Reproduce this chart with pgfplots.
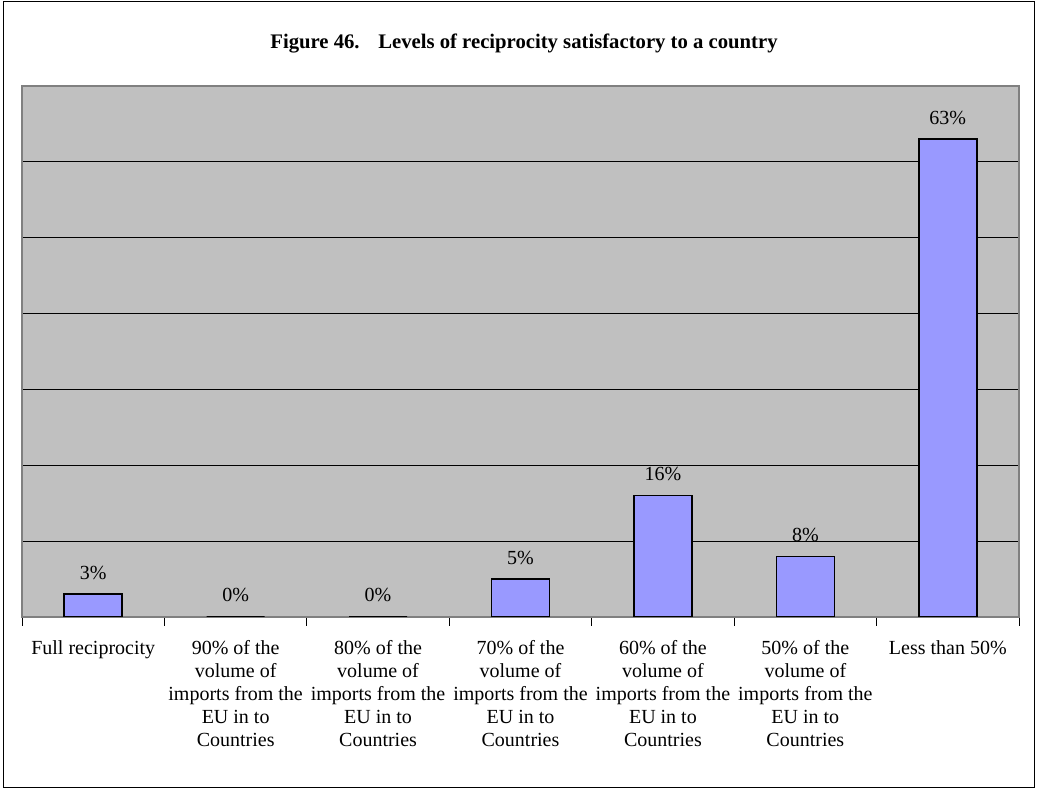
\documentclass[border=0pt]{standalone}
\usepackage{pgfplots}
\pgfplotsset{compat=1.18}
\usepackage{fontspec}
\setmainfont{Liberation Serif}
\definecolor{plotbg}{HTML}{C0C0C0}
\definecolor{barfill}{HTML}{9999FF}
\definecolor{bordergray}{HTML}{808080}
\begin{document}
\begin{tikzpicture}
\useasboundingbox (0,0) rectangle (1037pt,790pt);
\draw[black, line width=1pt] (3pt,2pt) rectangle (1034pt,788pt);
\node[anchor=base, font=\fontsize{20.7}{24}\selectfont\bfseries] at (524pt,741pt) {Figure 46.\hspace{0.9em}Levels of reciprocity satisfactory to a country};
\begin{axis}[
  at={(22pt,173pt)}, anchor=south west,
  scale only axis, width=997pt, height=531pt,
  xmin=-0.5, xmax=6.5, ymin=0, ymax=70,
  /pgf/number format/assume math mode=true,
  axis background/.style={fill=plotbg},
  axis line style={bordergray, line width=1.5pt},
  ytick={0,10,...,60}, yticklabels={}, ymajorgrids,
  major grid style={black, line width=0.8pt},
  xtick={0,...,6},
  minor xtick={-0.5,0.5,...,6.5},
  tick align=outside, tick pos=bottom,
  major tick length=0pt,
  minor tick length=9pt,
  minor tick style={black, line width=0.8pt},
  xticklabels={Full reciprocity,
    {90\% of the\\volume of\\imports from the\\EU in to\\Countries},
    {80\% of the\\volume of\\imports from the\\EU in to\\Countries},
    {70\% of the\\volume of\\imports from the\\EU in to\\Countries},
    {60\% of the\\volume of\\imports from the\\EU in to\\Countries},
    {50\% of the\\volume of\\imports from the\\EU in to\\Countries},
    Less than 50\%},
  xticklabel style={align=center, anchor=north, inner sep=0pt, yshift=-23pt, font=\fontsize{20}{23}\selectfont},
  ybar, bar width=58pt,
  nodes near coords={\pgfmathprintnumber{\pgfplotspointmeta}\%},
  every node near coord/.append style={anchor=base, inner sep=0pt, yshift=15pt, font=\fontsize{20}{23}\selectfont, text=black},
]
\addplot[fill=barfill, draw=black, line width=1.5pt] coordinates {(0,3) (1,0) (2,0) (3,5) (4,16) (5,8) (6,63)};
\end{axis}
\end{tikzpicture}
\end{document}
